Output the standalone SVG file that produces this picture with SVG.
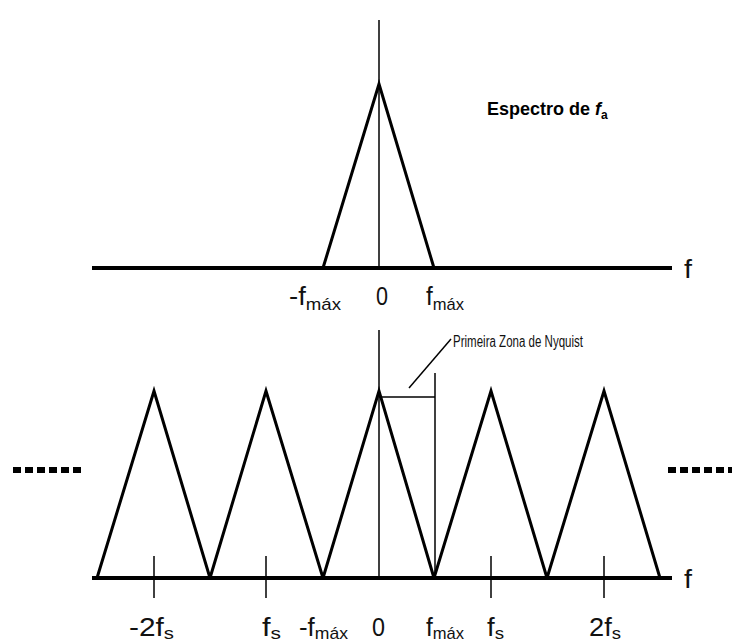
<svg xmlns="http://www.w3.org/2000/svg" width="732" height="644" viewBox="0 0 732 644">
<style>
.axis{stroke:#000;stroke-width:4;fill:none}
.tri{stroke:#000;stroke-width:3;fill:none;stroke-linejoin:miter}
.thin{stroke:#000;stroke-width:1.5;fill:none}
.dots{stroke:#000;stroke-width:6;stroke-dasharray:8 4;fill:none}
.lbl{font-family:"Liberation Sans",Arial,sans-serif;font-size:25px;fill:#111}
.sub{font-size:17px}
.title{font-family:"Liberation Sans",Arial,sans-serif;font-size:18px;font-weight:bold;fill:#000}
.note{font-family:"Liberation Sans",Arial,sans-serif;font-size:16px;fill:#111}
</style>
<rect width="732" height="644" fill="#fff"/>
<g id="connectors">
  <line class="thin" x1="379" y1="20" x2="379" y2="268"/>
  <line class="axis" x1="92" y1="268" x2="672" y2="268"/>
  <line class="thin" x1="379" y1="330" x2="379" y2="578"/>
  <line class="axis" x1="92" y1="578" x2="672" y2="578"/>
  <line class="thin" x1="154" y1="556" x2="154" y2="598"/>
  <line class="thin" x1="266" y1="556" x2="266" y2="598"/>
  <line class="thin" x1="491" y1="556" x2="491" y2="598"/>
  <line class="thin" x1="604" y1="556" x2="604" y2="598"/>
  <line class="thin" x1="435" y1="373" x2="435" y2="578"/>
  <line class="thin" x1="379" y1="397" x2="435" y2="397"/>
  <line class="thin" x1="409" y1="388" x2="451" y2="339"/>
  <line class="dots" x1="13" y1="470" x2="85" y2="470"/>
  <line class="dots" x1="668" y1="470" x2="740" y2="470"/>
</g>
<g id="spectrum-top">
  <polyline class="tri" points="323,268 379,84 434,268"/>
</g>
<g id="spectrum-bottom">
  <polyline class="tri" points="97,578 154,391 210,578"/>
  <polyline class="tri" points="210,578 266,391 323,578"/>
  <polyline class="tri" points="323,578 379,391 434,578"/>
  <polyline class="tri" points="434,578 491,391 547,578"/>
  <polyline class="tri" points="547,578 604,391 660,578"/>
</g>
<g id="title">
  <text class="title" x="487" y="115">Espectro de <tspan font-style="italic">f</tspan><tspan font-size="12" dy="4">a</tspan></text>
</g>
<g id="nyquist-label">
  <text class="note" x="453" y="347" textLength="130" lengthAdjust="spacingAndGlyphs">Primeira Zona de Nyquist</text>
</g>
<g id="labels-top">
  <text class="lbl" x="289" y="305" textLength="52" lengthAdjust="spacingAndGlyphs">-f<tspan class="sub" dy="5">máx</tspan></text>
  <text class="lbl" x="376" y="305" textLength="12" lengthAdjust="spacingAndGlyphs">0</text>
  <text class="lbl" x="426" y="305" textLength="38" lengthAdjust="spacingAndGlyphs">f<tspan class="sub" dy="5">máx</tspan></text>
  <text class="lbl" x="684" y="278" textLength="8" lengthAdjust="spacingAndGlyphs">f</text>
</g>
<g id="labels-bottom">
  <text class="lbl" x="129" y="636" textLength="45" lengthAdjust="spacingAndGlyphs">-2f<tspan class="sub" dy="3">s</tspan></text>
  <text class="lbl" x="262" y="636" textLength="19" lengthAdjust="spacingAndGlyphs">f<tspan class="sub" dy="3">s</tspan></text>
  <text class="lbl" x="299" y="636" textLength="49" lengthAdjust="spacingAndGlyphs">-f<tspan class="sub" dy="3">máx</tspan></text>
  <text class="lbl" x="372" y="636" textLength="13" lengthAdjust="spacingAndGlyphs">0</text>
  <text class="lbl" x="426" y="636" textLength="38" lengthAdjust="spacingAndGlyphs">f<tspan class="sub" dy="3">máx</tspan></text>
  <text class="lbl" x="487" y="636" textLength="17" lengthAdjust="spacingAndGlyphs">f<tspan class="sub" dy="3">s</tspan></text>
  <text class="lbl" x="589" y="636" textLength="32" lengthAdjust="spacingAndGlyphs">2f<tspan class="sub" dy="3">s</tspan></text>
  <text class="lbl" x="684" y="588" textLength="8" lengthAdjust="spacingAndGlyphs">f</text>
</g>
</svg>
